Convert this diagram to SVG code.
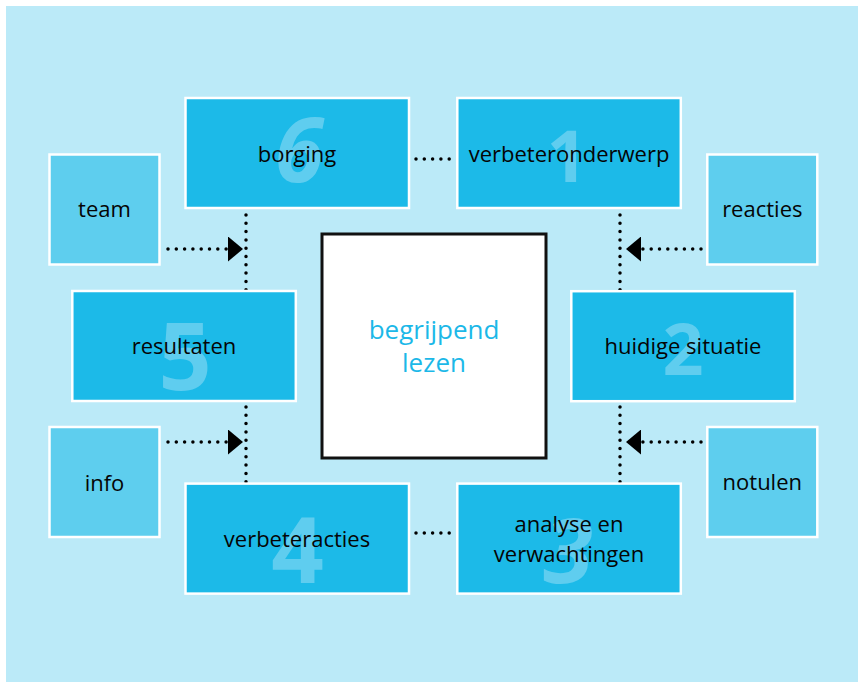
<svg xmlns="http://www.w3.org/2000/svg" width="858" height="682" viewBox="0 0 858 682">
<style>
.bg{fill:#BBEAF8}
.step{fill:#1CBAE8;stroke:#FFFFFF;stroke-width:2.5}
.side{fill:#5ECEEE;stroke:#FFFFFF;stroke-width:2.5}
.center{fill:#FFFFFF;stroke:#111111;stroke-width:3}
.lbl{font-family:"Open Sans","Noto Sans","Liberation Sans",sans-serif;font-size:22px;fill:#050505;text-anchor:middle}
.num{font-family:"Open Sans","Noto Sans","Liberation Sans",sans-serif;font-weight:700;fill:#5FCDEF;text-anchor:middle}
.ctr{font-family:"Open Sans","Noto Sans","Liberation Sans",sans-serif;font-size:26px;fill:#1CB8E8;text-anchor:middle}
.dot{fill:none;stroke:#000000;stroke-width:3.5;stroke-linecap:round;stroke-dasharray:0 8.3}
</style>
<defs>
<marker id="arr" markerUnits="userSpaceOnUse" markerWidth="15" markerHeight="25" viewBox="0 0 15 25" refX="0" refY="12.5" orient="auto">
<path d="M0,0 L15,12.5 L0,25 Z" fill="#000000"/>
</marker>
</defs>
<rect class="bg" x="6" y="6" width="852" height="676"/>

<g id="connectors">
<line class="dot" x1="416" y1="159" x2="456" y2="159"/>
<line class="dot" x1="416" y1="533" x2="456" y2="533"/>
<line class="dot" x1="246" y1="215" x2="246" y2="290"/>
<line class="dot" x1="246" y1="407" x2="246" y2="482"/>
<line class="dot" x1="620" y1="215" x2="620" y2="290"/>
<line class="dot" x1="620" y1="407" x2="620" y2="482"/>
<line class="dot" x1="168" y1="249" x2="228" y2="249" marker-end="url(#arr)"/>
<line class="dot" x1="168" y1="442" x2="228" y2="442" marker-end="url(#arr)"/>
<line class="dot" x1="701" y1="249" x2="641" y2="249" marker-end="url(#arr)"/>
<line class="dot" x1="701" y1="442" x2="641" y2="442" marker-end="url(#arr)"/>
</g>

<g id="node-center">
<rect class="center" x="322" y="234" width="224" height="224"/>
<text class="ctr" x="434" y="339">begrijpend</text>
<text class="ctr" x="434" y="372">lezen</text>
</g>

<g id="node-1">
<rect class="step" x="457.3" y="98" width="223.5" height="110"/>
<text class="num" x="567" y="182" font-size="71">1</text>
<text class="lbl" x="569" y="162">verbeteronderwerp</text>
</g>

<g id="node-2">
<rect class="step" x="571.3" y="291.2" width="223.5" height="110"/>
<text class="num" x="683" y="375" font-size="72">2</text>
<text class="lbl" x="683" y="354">huidige situatie</text>
</g>

<g id="node-3">
<rect class="step" x="457.3" y="483.6" width="223.5" height="110"/>
<text class="num" x="568" y="583" font-size="90" font-style="italic">3</text>
<text class="lbl" x="569" y="532">analyse en</text>
<text class="lbl" x="569" y="562">verwachtingen</text>
</g>

<g id="node-4">
<rect class="step" x="185.5" y="483.6" width="223.5" height="110"/>
<text class="num" x="297.5" y="583" font-size="92">4</text>
<text class="lbl" x="297" y="547">verbeteracties</text>
</g>

<g id="node-5">
<rect class="step" x="72.3" y="291" width="223.5" height="110"/>
<text class="num" x="185" y="390" font-size="93">5</text>
<text class="lbl" x="184" y="354">resultaten</text>
</g>

<g id="node-6">
<rect class="step" x="185.5" y="98" width="223.5" height="110"/>
<text class="num" x="299" y="182" font-size="89" font-style="italic">6</text>
<text class="lbl" x="297" y="162">borging</text>
</g>

<g id="node-team">
<rect class="side" x="49.5" y="154.5" width="110" height="110"/>
<text class="lbl" x="104.5" y="217">team</text>
</g>

<g id="node-reacties">
<rect class="side" x="707.3" y="154.5" width="110" height="110"/>
<text class="lbl" x="762.3" y="217">reacties</text>
</g>

<g id="node-info">
<rect class="side" x="49.5" y="427" width="110" height="110"/>
<text class="lbl" x="104.5" y="491">info</text>
</g>

<g id="node-notulen">
<rect class="side" x="707.3" y="427" width="110" height="110"/>
<text class="lbl" x="762.3" y="490">notulen</text>
</g>
</svg>
